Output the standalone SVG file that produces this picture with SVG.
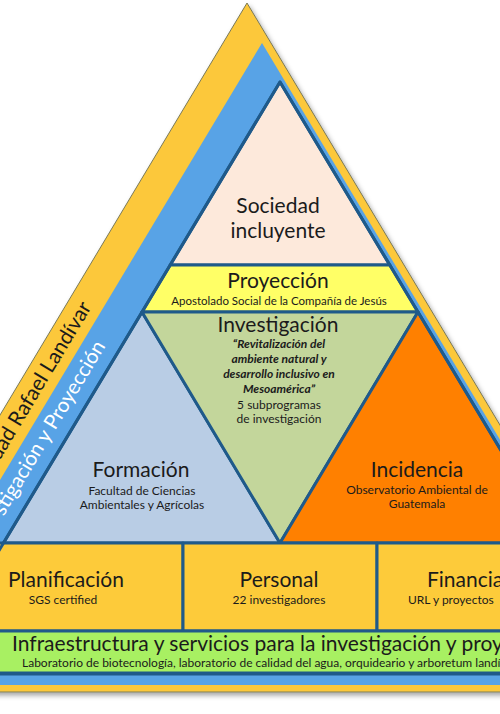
<svg xmlns="http://www.w3.org/2000/svg" width="500" height="714" viewBox="0 0 500 714">
<defs>
<filter id="sh" x="-20%" y="-10%" width="140%" height="130%"><feDropShadow dx="2" dy="3" stdDeviation="2.5" flood-color="#000" flood-opacity="0.35"/></filter>
</defs>
<style>
.t{font-family:Lato,'Liberation Sans',sans-serif;fill:#1b1b1b;text-anchor:middle}
.st{text-anchor:start}
.big{font-size:21px}
.sm{font-size:12px}
.bi{font-size:12px;font-weight:bold;font-style:italic}
.ln{stroke:#1F5A8A;stroke-width:3;stroke-linejoin:round}
</style>
<rect width="500" height="714" fill="#fff"/>
<g id="outer-frame">
<polygon points="247,3 660,692 -166,692" fill="#FCC83A" stroke="#7a7a5a" stroke-width="1" filter="url(#sh)"/>
<polygon points="262,43 647,685 -123,685" fill="#58A3E6"/>
<text class="t" font-size="21" transform="translate(92,307) rotate(-59)" style="text-anchor:end">dad Rafael Landívar</text>
<text class="t" font-size="20.5" transform="translate(106,346) rotate(-59)" style="text-anchor:end;fill:#fff">stigación y Proyección</text>
</g>
<g id="sociedad">
<polygon class="ln" points="280,82 389.8,265 170.2,265" fill="#FDE9DB"/>
<text class="t big" x="278" y="213">Sociedad</text>
<text class="t big" x="278" y="238">incluyente</text>
</g>
<g id="proyeccion">
<polygon class="ln" points="170.2,265 389.8,265 418,312 142,312" fill="#FFFF66"/>
<text class="t big" x="278" y="288">Proyección</text>
<text class="t" font-size="11.5" x="279" y="305">Apostolado Social de la Compañía de Jesús</text>
</g>
<g id="formacion">
<polygon class="ln" points="142,312 280,543 3.4,543" fill="#B9CDE5"/>
<text class="t big" x="141" y="477">Formación</text>
<text class="t sm" x="142" y="495">Facultad de Ciencias</text>
<text class="t sm" x="142" y="509">Ambientales y Agrícolas</text>
</g>
<g id="investigacion">
<polygon class="ln" points="142,312 418,312 280,543" fill="#C3D69B"/>
<text class="t big" x="278" y="332">Investigación</text>
<text class="t bi" x="279" y="348">“Revitalización del</text>
<text class="t bi" x="279" y="363">ambiente natural y</text>
<text class="t bi" x="279" y="378">desarrollo inclusivo en</text>
<text class="t bi" x="279" y="393">Mesoamérica”</text>
<text class="t sm" x="279" y="409">5 subprogramas</text>
<text class="t sm" x="279" y="423">de investigación</text>
</g>
<g id="incidencia">
<polygon class="ln" points="418,312 556.6,543 280,543" fill="#FF8000"/>
<text class="t big" x="417" y="477">Incidencia</text>
<text class="t sm" x="417" y="494">Observatorio Ambiental de</text>
<text class="t sm" x="417" y="508">Guatemala</text>
</g>
<g id="planificacion">
<rect class="ln" x="-80" y="543" width="263" height="88" fill="#FDCB3A"/>
<text class="t big st" x="8" y="587">Planificación</text>
<text class="t sm" x="63" y="604">SGS certified</text>
</g>
<g id="personal">
<rect class="ln" x="183" y="543" width="194" height="88" fill="#FDCB3A"/>
<text class="t big" x="279" y="587">Personal</text>
<text class="t sm" x="279" y="604">22 investigadores</text>
</g>
<g id="financiamiento">
<rect class="ln" x="377" y="543" width="260" height="88" fill="#FDCB3A"/>
<text class="t big st" x="427" y="587">Financia</text>
<text class="t sm st" x="408" y="604">URL y proyectos</text>
</g>
<g id="infraestructura">
<rect class="ln" x="-80" y="631" width="720" height="42" fill="#A8F062"/>
<text class="t big st" x="12" y="651">Infraestructura y servicios para la investigación y proye</text>
<text class="t sm st" x="22" y="667">Laboratorio de biotecnología, laboratorio de calidad del agua, orquideario y arboretum landív</text>
</g>
<g id="pyramid-outline">
<polygon class="ln" points="280,82 635,674 -75,674" fill="none"/>
</g>
<g id="connectors"/>
</svg>
